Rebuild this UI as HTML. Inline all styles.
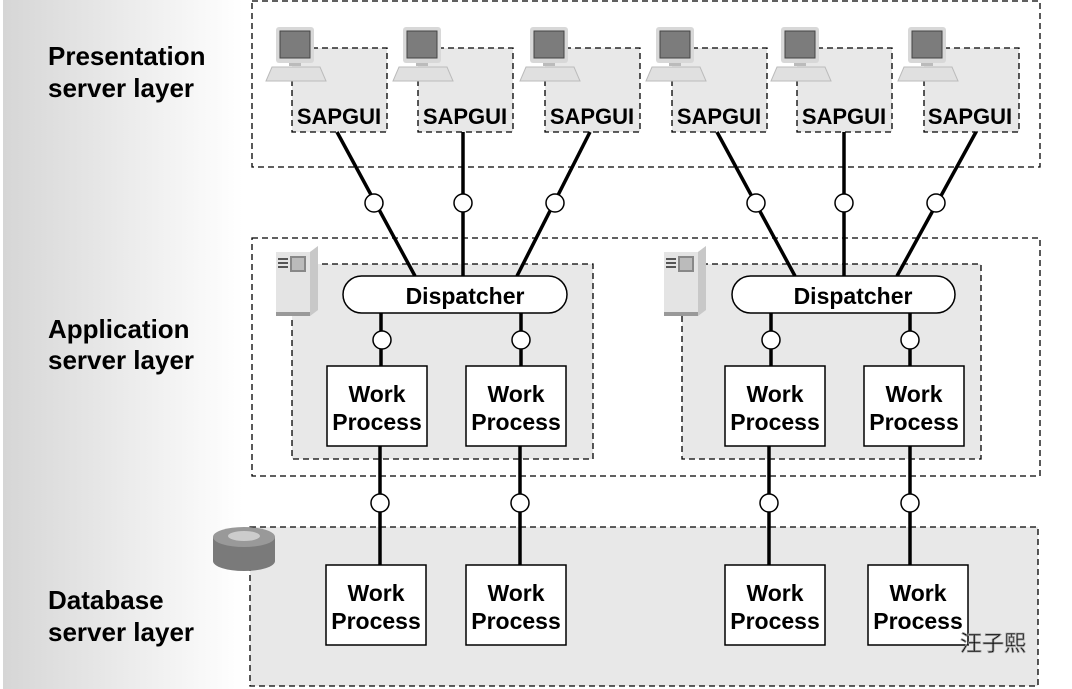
<!DOCTYPE html>
<html><head><meta charset="utf-8"><style>
html,body{margin:0;padding:0;background:#fff}
svg{display:block}
text{font-family:"Liberation Sans",Arial,sans-serif;font-weight:bold;fill:#000}
</style></head><body>
<svg width="1072" height="689" viewBox="0 0 1072 689" xmlns="http://www.w3.org/2000/svg">
<defs>
<linearGradient id="g" x1="0" x2="1" y1="0" y2="0">
<stop offset="0" stop-color="#d6d6d6"/><stop offset="1" stop-color="#ffffff"/>
</linearGradient>
<g id="pc">
<rect x="10" y="0" width="38" height="36" rx="3" fill="#d8d8d8"/>
<rect x="14" y="4" width="30" height="27" fill="#7c7c7c" stroke="#444" stroke-width="1"/>
<rect x="23" y="36" width="12" height="3" fill="#bbb"/>
<polygon points="6,40 54,40 60,54 0,54" fill="#e0e0e0" stroke="#bbb"/>
</g>
<g id="srv">
<polygon points="0,6 34,6 42,0 42,64 34,70 0,70" fill="#e4e4e4"/>
<polygon points="34,6 42,0 42,64 34,70" fill="#c8c8c8"/>
<rect x="2" y="12" width="10" height="2" fill="#555"/><rect x="2" y="16" width="10" height="2" fill="#555"/><rect x="2" y="20" width="10" height="2" fill="#555"/>
<rect x="14" y="10" width="16" height="16" fill="#888"/>
<rect x="16" y="12" width="12" height="12" fill="#bbb"/>
<rect x="0" y="66" width="34" height="4" fill="#999"/>
</g>
</defs>
<rect x="3" y="0" width="240" height="689" fill="url(#g)"/>
<g font-size="26">
<text x="48" y="65">Presentation</text><text x="48" y="97">server layer</text>
<text x="48" y="338">Application</text><text x="48" y="369">server layer</text>
<text x="48" y="609">Database</text><text x="48" y="641">server layer</text>
</g>
<g fill="none" stroke="#000" stroke-width="1.3" stroke-dasharray="6,4">
<rect x="252" y="1" width="788" height="166" fill="#fff"/>
<rect x="252" y="238" width="788" height="238" fill="#fff"/>
<rect x="250" y="527" width="788" height="159" fill="#e8e8e8"/>
<rect x="292" y="264" width="301" height="195" fill="#e8e8e8"/>
<rect x="682" y="264" width="299" height="195" fill="#e8e8e8"/>
<rect x="292" y="48" width="95" height="84" fill="#e8e8e8"/>
<rect x="418" y="48" width="95" height="84" fill="#e8e8e8"/>
<rect x="545" y="48" width="95" height="84" fill="#e8e8e8"/>
<rect x="672" y="48" width="95" height="84" fill="#e8e8e8"/>
<rect x="797" y="48" width="95" height="84" fill="#e8e8e8"/>
<rect x="924" y="48" width="95" height="84" fill="#e8e8e8"/>
</g>
<use href="#pc" x="266" y="27"/><use href="#pc" x="393" y="27"/><use href="#pc" x="520" y="27"/>
<use href="#pc" x="646" y="27"/><use href="#pc" x="771" y="27"/><use href="#pc" x="898" y="27"/>
<g font-size="22" text-anchor="middle">
<text x="339" y="124">SAPGUI</text><text x="465" y="124">SAPGUI</text><text x="592" y="124">SAPGUI</text>
<text x="719" y="124">SAPGUI</text><text x="844" y="124">SAPGUI</text><text x="970" y="124">SAPGUI</text>
</g>
<use href="#srv" x="276" y="246"/><use href="#srv" x="664" y="246"/>
<g stroke="#000" stroke-width="3.5" fill="none">
<line x1="337" y1="132" x2="415" y2="276"/><line x1="463" y1="132" x2="463" y2="276"/><line x1="590" y1="132" x2="517" y2="276"/>
<line x1="717" y1="132" x2="795" y2="276"/><line x1="844" y1="132" x2="844" y2="276"/><line x1="976" y1="132" x2="897" y2="276"/>
<line x1="381" y1="312" x2="381" y2="366"/><line x1="521" y1="312" x2="521" y2="366"/>
<line x1="771" y1="312" x2="771" y2="366"/><line x1="910" y1="312" x2="910" y2="366"/>
<line x1="380" y1="446" x2="380" y2="565"/><line x1="520" y1="446" x2="520" y2="565"/>
<line x1="769" y1="446" x2="769" y2="565"/><line x1="910" y1="446" x2="910" y2="565"/>
</g>
<g fill="#fff" stroke="#000" stroke-width="1.5">
<rect x="343" y="276" width="224" height="37" rx="18.5"/>
<rect x="732" y="276" width="223" height="37" rx="18.5"/>
<circle cx="374" cy="203" r="9"/><circle cx="463" cy="203" r="9"/><circle cx="555" cy="203" r="9"/>
<circle cx="756" cy="203" r="9"/><circle cx="844" cy="203" r="9"/><circle cx="936" cy="203" r="9"/>
<circle cx="382" cy="340" r="9"/><circle cx="521" cy="340" r="9"/><circle cx="771" cy="340" r="9"/><circle cx="910" cy="340" r="9"/>
<circle cx="380" cy="503" r="9"/><circle cx="520" cy="503" r="9"/><circle cx="769" cy="503" r="9"/><circle cx="910" cy="503" r="9"/>
<rect x="327" y="366" width="100" height="80"/><rect x="466" y="366" width="100" height="80"/>
<rect x="725" y="366" width="100" height="80"/><rect x="864" y="366" width="100" height="80"/>
<rect x="326" y="565" width="100" height="80"/><rect x="466" y="565" width="100" height="80"/>
<rect x="725" y="565" width="100" height="80"/><rect x="868" y="565" width="100" height="80"/>
</g>
<g font-size="23" text-anchor="middle">
<text x="465" y="304">Dispatcher</text><text x="853" y="304">Dispatcher</text>
<text x="377" y="402">Work</text><text x="377" y="430">Process</text>
<text x="516" y="402">Work</text><text x="516" y="430">Process</text>
<text x="775" y="402">Work</text><text x="775" y="430">Process</text>
<text x="914" y="402">Work</text><text x="914" y="430">Process</text>
<text x="376" y="601">Work</text><text x="376" y="629">Process</text>
<text x="516" y="601">Work</text><text x="516" y="629">Process</text>
<text x="775" y="601">Work</text><text x="775" y="629">Process</text>
<text x="918" y="601">Work</text><text x="918" y="629">Process</text>
</g>
<g>
<path d="M213 537 V561 A31 10 0 0 0 275 561 V537 Z" fill="#7a7a7a"/>
<ellipse cx="244" cy="537" rx="31" ry="10" fill="#999"/>
<ellipse cx="244" cy="536" rx="16" ry="5" fill="#ccc"/>
</g>
<text x="960" y="651" font-size="22" style="font-family:'Liberation Sans','Noto Sans CJK SC',sans-serif;font-weight:normal" fill="#fff" stroke="#999" stroke-width="0.8">汪子熙</text>
</svg>
</body></html>
